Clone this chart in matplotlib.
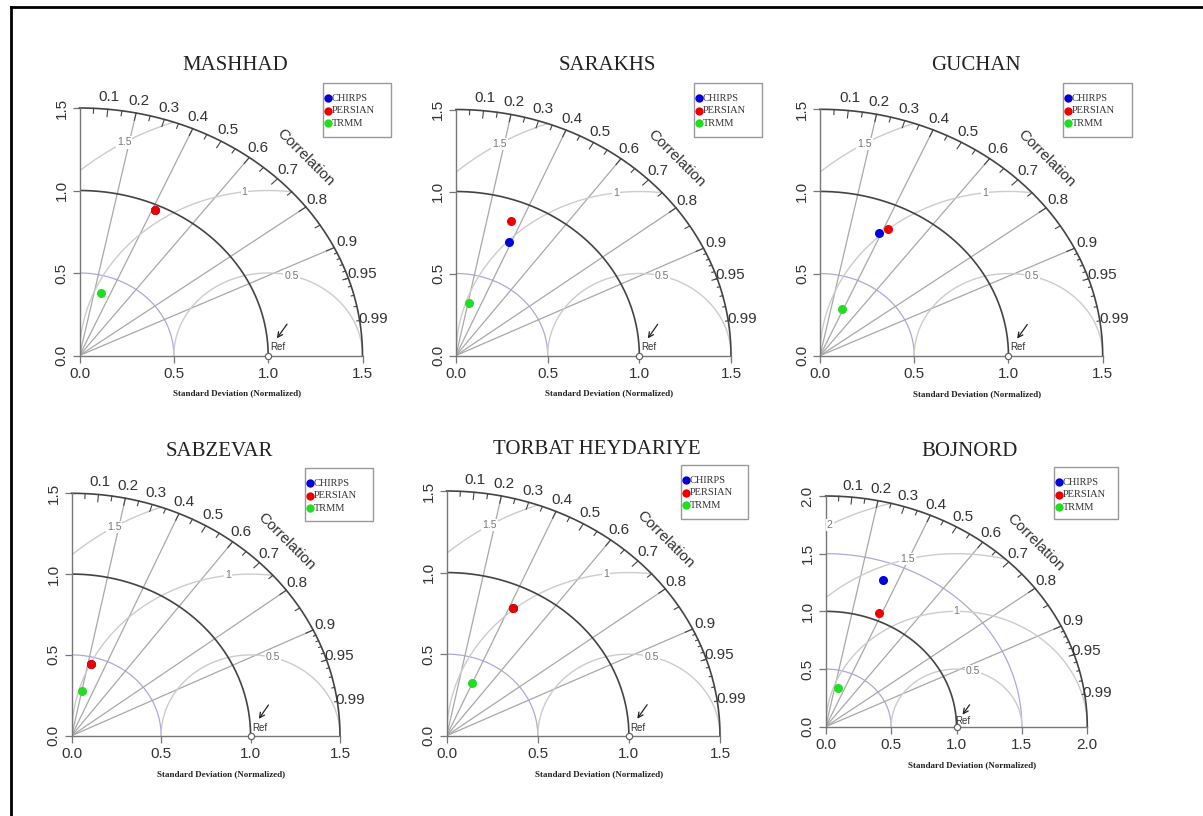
import numpy as np
import matplotlib
matplotlib.use("Agg")
import matplotlib.pyplot as plt
from matplotlib.patches import Rectangle
from matplotlib.lines import Line2D

# ---------------- data ----------------
stations = ["MASHHAD", "SARAKHS", "GUCHAN", "SABZEVAR", "TORBAT HEYDARIYE", "BOJNORD"]
products = ["CHIRPS", "PERSIAN", "TRMM"]
product_colors = ["#0000dd", "#ee0000", "#22dd22"]
max_sd = [1.5, 1.5, 1.5, 1.5, 1.5, 2.0]

# normalized standard deviation (per station)
sd_chirps = [0.965, 0.748, 0.810, 0.459, 0.862, 1.345]
sd_persian = [0.965, 0.872, 0.853, 0.459, 0.864, 1.069]
sd_trmm = [0.395, 0.329, 0.307, 0.286, 0.350, 0.346]
# correlation with observations (per station)
corr_chirps = [0.412, 0.389, 0.385, 0.240, 0.423, 0.328]
corr_persian = [0.412, 0.342, 0.421, 0.240, 0.424, 0.384]
corr_trmm = [0.291, 0.222, 0.375, 0.210, 0.391, 0.266]

corr_tick_labels = [0.1, 0.2, 0.3, 0.4, 0.5, 0.6, 0.7, 0.8, 0.9, 0.95, 0.99]
grad_corr_lines = [0.2, 0.4, 0.6, 0.8, 0.9]

# ---------------- layout (pixels) ----------------
W, H = 1203, 816
panel_px = [  # origin x, origin y, x-end px, y-end px
    (79.5, 355.5, 362.5, 108.0),
    (456.0, 355.5, 731.0, 109.5),
    (820.0, 355.7, 1102.7, 109.3),
    (71.7, 735.7, 340.0, 493.3),
    (446.7, 735.7, 720.0, 491.0),
    (825.7, 726.7, 1087.3, 496.0),
]
title_y_px = [66, 66, 66, 451, 449, 451]
legend_px = [  # left, top, right, bottom
    (323, 83, 391, 137),
    (694, 83, 762, 137),
    (1063, 83, 1132, 137),
    (305, 468, 373, 521),
    (681, 465, 748, 519),
    (1054, 467, 1118, 519),
]

SANS = "Liberation Sans"
SERIF = "Liberation Serif"

fig = plt.figure(figsize=(W / 100, H / 100), dpi=100)
fig.patch.set_facecolor("white")

def fx(px):
    return px / W

def fy(py):
    return 1 - py / H

# border
fig.add_artist(Line2D([fx(11), 1.0], [fy(7), fy(7)], color="black", lw=2, transform=fig.transFigure))
fig.add_artist(Line2D([fx(11), fx(11)], [fy(7), 0.0], color="black", lw=2, transform=fig.transFigure))

sd_all = [sd_chirps, sd_persian, sd_trmm]
corr_all = [corr_chirps, corr_persian, corr_trmm]

for i, name in enumerate(stations):
    ox, oy, xe, ye = panel_px[i]
    m = max_sd[i]
    ax = fig.add_axes([fx(ox), fy(oy), (xe - ox) / W, (oy - ye) / H])
    ax.set_xlim(0, m)
    ax.set_ylim(0, m)
    ax.set_facecolor("none")
    for s in ["top", "right"]:
        ax.spines[s].set_visible(False)
    for s in ["left", "bottom"]:
        ax.spines[s].set_color("#777777")
        ax.spines[s].set_linewidth(1.0)
    ticks = list(np.arange(0, m + 0.01, 0.5))
    labels = ["%.1f" % t for t in ticks]
    ax.set_xticks(ticks)
    ax.set_xticklabels(labels, fontsize=11, family=SANS, color="#333333")
    ax.set_yticks(ticks)
    ax.set_yticklabels(labels, fontsize=11, family=SANS, color="#333333",
                       rotation=90, va="center")
    ax.tick_params(direction="out", length=5, width=0.9, color="#777777", pad=3)

    th = np.linspace(0, np.pi / 2, 300)
    # SD arcs
    for t in ticks:
        if t in (0, 1.0, m):
            continue
        ax.plot(t * np.cos(th), t * np.sin(th), color="#aaaadd", lw=0.9, zorder=1)
    # ref arc and outer arc
    ax.plot(np.cos(th), np.sin(th), color="#444444", lw=1.2, zorder=2)
    ax.plot(m * np.cos(th), m * np.sin(th), color="#444444", lw=1.2, zorder=2, clip_on=False)

    # correlation lines
    for r in grad_corr_lines:
        ax.plot([0, m * r], [0, m * np.sqrt(1 - r * r)], color="#a8a8a8", lw=0.9,
                zorder=1)

    # RMS contours
    gammas = list(np.arange(0.5, m + 0.01, 0.5))
    ang = np.linspace(0, np.pi, 1000)
    lp = np.floor(np.linspace(45, 70, len(gammas)))
    for g, l in zip(gammas, lp):
        xc = 1 + g * np.cos(ang)
        yc = g * np.sin(ang)
        mask = (xc >= 0) & (xc * xc + yc * yc <= m * m + 1e-9)
        ax.plot(np.where(mask, xc, np.nan), np.where(mask, yc, np.nan),
                color="#cccccc", lw=1.0, zorder=1)
        a = (l - 3) * np.pi / 100
        lx, ly = 1 + g * np.cos(a), g * np.sin(a)
        if lx < 0.03:
            a = np.arccos((0.03 - 1) / g)
            lx, ly = 1 + g * np.cos(a), g * np.sin(a)
        lab = ("%g" % g)
        ax.text(lx, ly, lab, fontsize=7.5, family=SANS, color="#777777", ha="center",
                va="center", zorder=3,
                bbox=dict(boxstyle="square,pad=0.1", fc="white", ec="none"))

    # outer ticks
    for vals, frac in [(np.arange(0.1, 0.91, 0.1), 0.97),
                       (np.arange(0.05, 0.96, 0.1), 0.98),
                       (np.arange(0.91, 0.995, 0.01), 0.99)]:
        for r in vals:
            a = np.arccos(r)
            ax.plot([m * np.cos(a), frac * m * np.cos(a)],
                    [m * np.sin(a), frac * m * np.sin(a)], color="#444444", lw=0.8,
                    clip_on=False)
    for r in corr_tick_labels:
        a = np.arccos(r)
        ax.text(1.05 * m * np.cos(a), 1.05 * m * np.sin(a), "%g" % r, fontsize=11,
                family=SANS, color="#333333", ha="center", va="center", clip_on=False)
    ax.text(0.8 * m, 0.8 * m, "Correlation", fontsize=11, family=SANS, color="#333333",
            rotation=-45, ha="center", va="center", rotation_mode="anchor", clip_on=False)

    # reference
    ax.plot([1.0], [0.0], marker="o", ms=4.5, mfc="white", mec="#666666", mew=0.9,
            clip_on=False, zorder=4)
    ax.text(1.05, 0.05, "Ref", fontsize=7, family=SANS, color="#333333", ha="center",
            va="center", zorder=4)
    ax.annotate("", xy=(1.046, 0.104), xytext=(1.10, 0.19),
                arrowprops=dict(arrowstyle="->", color="#222222", lw=0.9,
                                shrinkA=0, shrinkB=0, mutation_scale=9))

    # model points
    for k in range(3):
        sd = sd_all[k][i]
        r = corr_all[k][i]
        ax.plot([sd * r], [sd * np.sqrt(1 - r * r)], marker="o", ms=6.5,
                color=product_colors[k], mec="none", zorder=5, clip_on=False)

    # title and x label
    cx = ox + 0.55 * (xe - ox)
    fig.text(fx(cx), fy(title_y_px[i]), name, fontsize=15, family=SERIF,
             color="#222222", ha="center", va="center")
    fig.text(fx(cx + 2), fy(oy + 38), "Standard Deviation (Normalized)", fontsize=6.5,
             family=SERIF, weight="bold", color="#222222", ha="center", va="center")

    # legend
    l, t, rr, b = legend_px[i]
    fig.add_artist(Rectangle((fx(l), fy(b)), (rr - l) / W, (b - t) / H, fill=False,
                             ec="#999999", lw=1.0, transform=fig.transFigure))
    for k, p in enumerate(products):
        yy = t + 15.3 + 12.4 * k
        fig.add_artist(Line2D([fx(l + 4.5)], [fy(yy)], marker="o", ms=6,
                              color=product_colors[k], mec="none",
                              transform=fig.transFigure))
        fig.text(fx(l + 8.5), fy(yy), p, fontsize=7.5, family=SERIF, color="#333333",
                 ha="left", va="center")

fig.savefig("out.png", dpi=100, facecolor="white")
